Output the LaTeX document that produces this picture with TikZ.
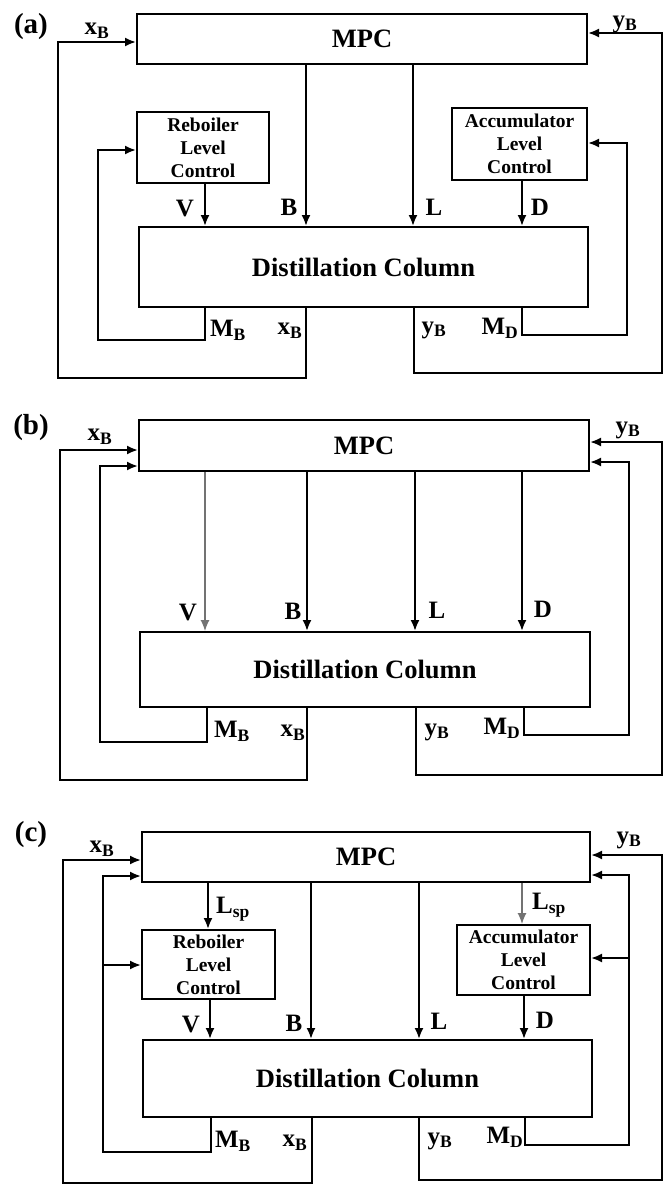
\documentclass[tikz,border=0pt]{standalone}
\usepackage{fontspec}
\setmainfont{Liberation Serif}
\usetikzlibrary{arrows.meta}
\begin{document}
\begin{tikzpicture}[x=1pt,y=-1pt,
  ln/.style={line width=2pt},
  arr/.style={ln, -{Latex[length=11pt,width=9pt]}},
  farr/.style={line width=1.2pt, black!55, -{Latex[length=11pt,width=9pt]}},
  box/.style={draw, line width=2pt, inner sep=0pt},
  big/.style={font=\bfseries\fontsize{26.5}{29}\selectfont},
  small/.style={font=\bfseries\fontsize{19.5}{23}\selectfont, align=center},
  lab/.style={font=\bfseries\fontsize{25}{27}\selectfont, inner sep=0pt},
  pan/.style={font=\bfseries\fontsize{29}{31}\selectfont, inner sep=0pt}]
\useasboundingbox (0,0) rectangle (664,1186);

% ================= (a) =================
\node[pan] (pa) at (31,27) {(a)};
\node[box, big, minimum width=450pt, minimum height=50pt] (mpcA) at (362,39) {MPC};
\node[box, small, minimum width=132pt, minimum height=71pt] (rebA) at (203,147.5) {Reboiler\\Level\\Control};
\node[box, small, minimum width=135pt, minimum height=72pt] (accA) at (519.5,144) {Accumulator\\Level\\Control};
\node[box, big, minimum width=449pt, minimum height=80pt] (colA) at (363.5,267) {Distillation Column};

\draw[arr] (mpcA.south -| 306,0) -- (colA.north -| 306,0);
\draw[arr] (mpcA.south -| 413,0) -- (colA.north -| 413,0);
\draw[arr] (rebA.south -| 205,0) -- (colA.north -| 205,0);
\draw[arr] (accA.south -| 522,0) -- (colA.north -| 522,0);
\draw[arr] (colA.south -| 306,0) -- (306,378) -- (58,378) -- (58,42) -- (mpcA.west |- 0,42);
\draw[arr] (colA.south -| 414,0) -- (414,373) -- (662,373) -- (662,33) -- (mpcA.east |- 0,33);
\draw[arr] (colA.south -| 205,0) -- (205,340) -- (98,340) -- (98,150) -- (rebA.west |- 0,150);
\draw[arr] (colA.south -| 522,0) -- (522,335) -- (627,335) -- (627,143) -- (accA.east |- 0,143);

\node[lab] (la1) at (97,31) {x\textsubscript{B}};
\node[lab] (la2) at (625,24) {y\textsubscript{B}};
\node[lab] (la3) at (185,209) {V};
\node[lab] (la4) at (289,207) {B};
\node[lab] (la5) at (434,207) {L};
\node[lab] (la6) at (540,207) {D};
\node[lab] (la7) at (228,330) {M\textsubscript{B}};
\node[lab] (la8) at (290,331) {x\textsubscript{B}};
\node[lab] (la9) at (434,330) {y\textsubscript{B}};
\node[lab] (la10) at (500,328) {M\textsubscript{D}};

% ================= (b) =================
\node[pan] (pb) at (31,428) {(b)};
\node[box, big, minimum width=450pt, minimum height=51pt] (mpcB) at (364,445.5) {MPC};
\node[box, big, minimum width=450pt, minimum height=75pt] (colB) at (365,669.5) {Distillation Column};

\draw[farr] (mpcB.south -| 205,0) -- (colB.north -| 205,0);
\draw[arr] (mpcB.south -| 307,0) -- (colB.north -| 307,0);
\draw[arr] (mpcB.south -| 415,0) -- (colB.north -| 415,0);
\draw[arr] (mpcB.south -| 522,0) -- (colB.north -| 522,0);
\draw[arr] (colB.south -| 307,0) -- (307,780) -- (60,780) -- (60,450) -- (mpcB.west |- 0,450);
\draw[arr] (colB.south -| 207,0) -- (207,742) -- (100,742) -- (100,466) -- (mpcB.west |- 0,466);
\draw[arr] (colB.south -| 416,0) -- (416,775) -- (662,775) -- (662,442) -- (mpcB.east |- 0,442);
\draw[arr] (colB.south -| 524,0) -- (524,735) -- (629,735) -- (629,462) -- (mpcB.east |- 0,462);

\node[lab] (lb1) at (100,437) {x\textsubscript{B}};
\node[lab] (lb2) at (628,430) {y\textsubscript{B}};
\node[lab] (lb3) at (188,612) {V};
\node[lab] (lb4) at (293,611) {B};
\node[lab] (lb5) at (437,610) {L};
\node[lab] (lb6) at (543,609) {D};
\node[lab] (lb7) at (232,731) {M\textsubscript{B}};
\node[lab] (lb8) at (293,733) {x\textsubscript{B}};
\node[lab] (lb9) at (437,732) {y\textsubscript{B}};
\node[lab] (lb10) at (502,728) {M\textsubscript{D}};

% ================= (c) =================
\node[pan] (pc) at (31,835) {(c)};
\node[box, big, minimum width=448pt, minimum height=50pt] (mpcC) at (366,857) {MPC};
\node[box, small, minimum width=133pt, minimum height=69pt] (rebC) at (208.5,964.5) {Reboiler\\Level\\Control};
\node[box, small, minimum width=133pt, minimum height=70pt] (accC) at (523.5,960) {Accumulator\\Level\\Control};
\node[box, big, minimum width=449pt, minimum height=77pt] (colC) at (367.5,1078.5) {Distillation Column};

\draw[arr] (mpcC.south -| 208,0) -- (rebC.north -| 208,0);
\draw[farr] (mpcC.south -| 522,0) -- (accC.north -| 522,0);
\draw[arr] (rebC.south -| 210,0) -- (colC.north -| 210,0);
\draw[arr] (mpcC.south -| 311,0) -- (colC.north -| 311,0);
\draw[arr] (mpcC.south -| 419,0) -- (colC.north -| 419,0);
\draw[arr] (accC.south -| 524,0) -- (colC.north -| 524,0);
\draw[arr] (colC.south -| 312,0) -- (312,1183) -- (63,1183) -- (63,860) -- (mpcC.west |- 0,860);
\draw[arr] (colC.south -| 211,0) -- (211,1152) -- (103,1152) -- (103,876) -- (mpcC.west |- 0,876);
\draw[arr] (103,965) -- (rebC.west |- 0,965);
\draw[arr] (colC.south -| 419,0) -- (419,1180) -- (662,1180) -- (662,855) -- (mpcC.east |- 0,855);
\draw[arr] (colC.south -| 525,0) -- (525,1145) -- (629,1145) -- (629,875) -- (mpcC.east |- 0,875);
\draw[arr] (629,958) -- (accC.east |- 0,958);

\node[lab] (lc1) at (102,849) {x\textsubscript{B}};
\node[lab] (lc2) at (629,840) {y\textsubscript{B}};
\node[lab] (lc3) at (233,909) {L\textsubscript{sp}};
\node[lab] (lc4) at (549,905) {L\textsubscript{sp}};
\node[lab] (lc5) at (191,1024) {V};
\node[lab] (lc6) at (294,1023) {B};
\node[lab] (lc7) at (439,1021) {L};
\node[lab] (lc8) at (545,1020) {D};
\node[lab] (lc9) at (233,1141) {M\textsubscript{B}};
\node[lab] (lc10) at (295,1143) {x\textsubscript{B}};
\node[lab] (lc11) at (440,1141) {y\textsubscript{B}};
\node[lab] (lc12) at (505,1137) {M\textsubscript{D}};
\end{tikzpicture}
\end{document}
